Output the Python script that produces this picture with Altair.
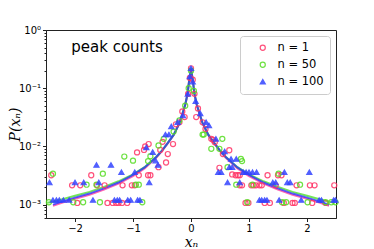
import altair as alt
import pandas as pd

series_names = ["n = 1", "n = 50", "n = 100"]
point_colors = ["#ff3366", "#55dd22", "#3344ff"]
line_colors = ["#ff3399", "#44dd22", "#2233ff"]

# ---- scatter points ----
red_x = [-2.41, -2.05, -1.96, -1.91, -1.72, -1.62, -1.49, -1.44, -1.35, -1.29, -1.25, -1.19, -1.18,
         -1.10, -1.02, -0.97, -0.93, -0.90, -0.81, -0.79, -0.74, -0.70, -0.73, -0.56, -0.53, -0.49,
         -0.43, -0.40, -0.31, -0.26, -0.20, -0.15, -0.11, -0.05, -0.02, 0.0, 0.03, 0.06, 0.09, 0.12,
         0.2, 0.25, 0.35, 0.38, 0.41, 0.49, 0.55, 0.66, 0.71, 0.77, 0.81, 0.84, 0.84, 0.88, 0.94,
         0.99, 1.04, 1.08, 1.12, 1.18, 1.22, 1.27, 1.32, 1.36, 1.46, 1.50, 1.56, 1.60, 1.75, 1.79,
         1.82, 2.05, 2.09, 2.13, 2.32, 2.47]
red_y = [3.2e-3, 2.15e-3, 1.07e-3, 2.15e-3, 3.2e-3, 2.15e-3, 2.15e-3, 1.07e-3, 1.07e-3, 1.07e-3,
         1.07e-3, 1.07e-3, 2.15e-3, 1.07e-3, 2.15e-3, 2.15e-3, 7.9e-3, 3.2e-3, 8.7e-3, 1.0e-2,
         3.2e-3, 3.2e-3, 1.1e-2, 4.4e-3, 8.7e-3, 1.2e-2, 5.3e-3, 7.4e-3, 1.1e-2, 2.4e-2, 2.6e-2,
         4.0e-2, 3.2e-2, 8.0e-2, 1.5e-1, 2.2e-1, 1.4e-1, 8.0e-2, 3.2e-2, 4.5e-2, 2.6e-2, 2.0e-2,
         1.35e-2, 1.3e-2, 1.18e-2, 4.3e-3, 7.4e-3, 8.6e-3, 3.3e-3, 3.2e-3, 3.2e-3, 3.2e-3, 2.15e-3,
         2.15e-3, 1.07e-3, 1.07e-3, 2.15e-3, 2.15e-3, 2.15e-3, 2.15e-3, 2.15e-3, 1.07e-3, 3.2e-3,
         1.07e-3, 2.15e-3, 3.2e-3, 3.2e-3, 1.07e-3, 1.07e-3, 1.07e-3, 2.15e-3, 2.15e-3, 1.07e-3,
         2.15e-3, 1.07e-3, 2.15e-3]

green_x = [-2.45, -2.38, -2.03, -1.86, -1.80, -1.63, -1.57, -1.52, -1.15, -1.00, -0.95, -0.90, -0.84,
           -0.74, -0.70, -0.56, -0.47, -0.30, -0.20, -0.10, -0.04, 0.0, 0.05, 0.20, 0.22, 0.35, 0.49,
           0.54, 0.63, 0.78, 0.86, 0.88, 0.97, 1.06, 1.51, 1.57, 1.64, 1.88, 2.01, 2.32, 2.42, 2.49]
green_y = [1.1e-3, 3.4e-3, 1.1e-3, 1.1e-3, 2.2e-3, 2.2e-3, 1.1e-3, 3.4e-3, 6.7e-3, 5.7e-3, 2.2e-3,
           2.2e-3, 1.1e-3, 5.6e-3, 6.8e-3, 1.04e-2, 1.35e-2, 1.8e-2, 2.8e-2, 5.0e-2, 1.0e-1, 2.0e-1,
           9.0e-2, 1.6e-2, 1.6e-2, 9.1e-3, 9.1e-3, 1.35e-2, 4.4e-3, 2.2e-3, 6.1e-3, 5.6e-3, 1.1e-3,
           2.2e-3, 3.4e-3, 1.1e-3, 1.1e-3, 2.2e-3, 1.1e-3, 1.1e-3, 1.1e-3, 1.1e-3]

blue_x = [-2.44, -2.38, -2.32, -2.27, -2.20, -2.10, -2.00, -1.85, -1.69, -1.63, -1.59, -1.38, -1.32,
          -1.27, -1.23, -1.20, -1.09, -1.04, -0.97, -0.92, -0.88, -0.77, -0.72, -0.66, -0.61, -0.57,
          -0.44, -0.38, -0.34, -0.23, -0.14, -0.055, -0.02, 0.0, 0.03, 0.08, 0.16, 0.26, 0.31, 0.43,
          0.47, 0.52, 0.58, 0.63, 0.66, 0.71, 0.69, 0.78, 0.84, 0.90, 0.95, 1.00, 1.06, 1.13, 1.18,
          1.22, 1.27, 1.31, 1.41, 1.46, 1.52, 1.61, 1.66, 1.71, 1.90, 2.04, 2.21, 2.25, 2.46, 2.49]
blue_y = [2.4e-3, 1.2e-3, 1.2e-3, 1.2e-3, 1.2e-3, 1.2e-3, 2.4e-3, 2.4e-3, 1.2e-3, 4.8e-3, 2.4e-3,
          4.8e-3, 1.2e-3, 1.2e-3, 1.2e-3, 3.6e-3, 1.2e-3, 1.2e-3, 3.6e-3, 1.2e-3, 1.2e-3, 9.6e-3,
          2.4e-3, 8.0e-3, 5.7e-3, 4.8e-3, 1.6e-2, 1.6e-2, 2.2e-2, 2.6e-2, 3.4e-2, 8.0e-2, 1.6e-1,
          2.2e-1, 1.3e-1, 6.0e-2, 3.7e-2, 2.6e-2, 2.3e-2, 1.35e-2, 3.6e-3, 3.6e-3, 8.2e-3, 2.4e-3,
          4.4e-3, 4.4e-3, 6.1e-3, 6.1e-3, 2.4e-3, 3.6e-3, 3.6e-3, 3.6e-3, 3.6e-3, 3.6e-3, 1.2e-3,
          1.2e-3, 1.2e-3, 1.2e-3, 2.4e-3, 2.4e-3, 1.2e-3, 3.6e-3, 2.4e-3, 2.4e-3, 1.2e-3, 3.6e-3,
          1.2e-3, 1.2e-3, 1.2e-3, 1.2e-3]

# ---- fitted curves ----
curve_x = [-2.38, -2.2, -2.0, -1.75, -1.5, -1.25, -1.0, -0.8, -0.6, -0.5, -0.4, -0.3, -0.2, -0.15,
           -0.1, -0.06, -0.03, 0.0, 0.03, 0.06, 0.1, 0.15, 0.2, 0.3, 0.4, 0.5, 0.6, 0.8, 1.0, 1.25,
           1.5, 1.75, 2.0, 2.2, 2.38]
red_curve = [0.00096, 0.0011, 0.00126, 0.00148, 0.00181, 0.0023, 0.0031, 0.0042, 0.0064, 0.0083,
             0.0113, 0.0155, 0.0248, 0.035, 0.051, 0.079, 0.14, 0.214, 0.14, 0.079, 0.051, 0.035,
             0.0248, 0.0155, 0.0113, 0.0083, 0.0064, 0.0042, 0.0031, 0.0023, 0.00181, 0.00148,
             0.00126, 0.0011, 0.00096]
blue_curve = [0.00100, 0.00115, 0.00132, 0.00155, 0.0019, 0.0024, 0.00324, 0.00437, 0.0066, 0.0085,
              0.0115, 0.0158, 0.0251, 0.036, 0.052, 0.0794, 0.141, 0.214, 0.141, 0.0794, 0.052,
              0.036, 0.0251, 0.0158, 0.0115, 0.0085, 0.0066, 0.00437, 0.00324, 0.0024, 0.0019,
              0.00155, 0.00132, 0.00115, 0.00100]
green_curve_x = [-2.48, -2.38, -2.2, -2.0, -1.75, -1.5, -1.25, -1.0, -0.8, -0.6, -0.5, -0.4, -0.3,
                 -0.2, -0.15, -0.1, -0.06, -0.03, 0.0, 0.03, 0.06, 0.1, 0.15, 0.2, 0.3, 0.4, 0.5,
                 0.6, 0.8, 1.0, 1.25, 1.5, 1.75, 2.0, 2.2, 2.38, 2.48]
green_curve = [0.00108, 0.00112, 0.00125, 0.00142, 0.00166, 0.00202, 0.00252, 0.0033, 0.0044,
               0.0066, 0.0085, 0.0115, 0.0158, 0.0251, 0.036, 0.052, 0.0794, 0.141, 0.214, 0.141,
               0.0794, 0.052, 0.036, 0.0251, 0.0158, 0.0115, 0.0085, 0.0066, 0.0044, 0.0033,
               0.00252, 0.00202, 0.00166, 0.00142, 0.00125, 0.00112, 0.00108]

pts = pd.concat([
    pd.DataFrame({"x": red_x, "y": red_y, "series": series_names[0]}),
    pd.DataFrame({"x": green_x, "y": green_y, "series": series_names[1]}),
    pd.DataFrame({"x": blue_x, "y": blue_y, "series": series_names[2]}),
], ignore_index=True)

lines = pd.concat([
    pd.DataFrame({"x": curve_x, "y": red_curve, "series": series_names[0]}),
    pd.DataFrame({"x": green_curve_x, "y": green_curve, "series": series_names[1]}),
    pd.DataFrame({"x": curve_x, "y": blue_curve, "series": series_names[2]}),
], ignore_index=True)

major = [1e-3, 1e-2, 1e-1, 1.0]
minor = [6e-4, 7e-4, 8e-4, 9e-4,
         2e-3, 3e-3, 4e-3, 5e-3, 6e-3, 7e-3, 8e-3, 9e-3,
         2e-2, 3e-2, 4e-2, 5e-2, 6e-2, 7e-2, 8e-2, 9e-2,
         0.2, 0.3, 0.4, 0.5, 0.6, 0.7, 0.8, 0.9]
is_major = "abs(log(datum.value)/LN10 - round(log(datum.value)/LN10)) < 0.001"

xscale = alt.Scale(domain=[-2.5, 2.5], nice=False, zero=False)
yscale = alt.Scale(type="log", domain=[5.9e-4, 1.0], nice=False)

xenc = alt.X("x:Q", scale=xscale, axis=alt.Axis(
    values=[-2, -1, 0, 1, 2], title="xₙ",
    labelExpr="datum.value < 0 ? '−' + abs(datum.value) : '' + datum.value",
    titleFont="DejaVu Serif", titleFontStyle="italic", titleFontSize=14,
    titleFontWeight="normal", titleY=28, titleBaseline="alphabetic"))
yenc = alt.Y("y:Q", scale=yscale, axis=alt.Axis(
    values=major + minor, title="P(xₙ)",
    labelExpr=("datum.value > 0.99 ? '10⁰' : abs(datum.value-0.1) < 1e-6 ? '10⁻¹' : "
               "abs(datum.value-0.01) < 1e-7 ? '10⁻²' : abs(datum.value-0.001) < 1e-8 ? '10⁻³' : ''"),
    tickSize={"condition": {"test": is_major, "value": 3.5}, "value": 2},
    titleFont="DejaVu Serif", titleFontStyle="italic", titleFontSize=14,
    titleFontWeight="normal", titleX=-31, titleY=94, titleBaseline="middle"))

line_layer = alt.Chart(lines).mark_line(strokeWidth=2, opacity=0.75).encode(
    x=xenc, y=yenc,
    color=alt.Color("series:N", scale=alt.Scale(domain=series_names, range=line_colors), legend=None),
    detail="series:N",
)

leg = alt.Legend(title=None)
point_layer = alt.Chart(pts).mark_point(size=26, strokeWidth=1.2, opacity=0.85, filled=False).encode(
    x=xenc, y=yenc,
    stroke=alt.Stroke("series:N", scale=alt.Scale(domain=series_names, range=point_colors), legend=leg),
    shape=alt.Shape("series:N", scale=alt.Scale(domain=series_names,
                                                 range=["circle", "circle", "triangle-up"]), legend=leg),
    fill=alt.Fill("series:N", scale=alt.Scale(domain=series_names,
                                               range=["transparent", "transparent", "#3344ff"]), legend=leg),
)

label_layer = alt.Chart(pd.DataFrame({"t": ["peak counts"]})).mark_text(
    font="DejaVu Sans", fontSize=15, color="black", align="center", baseline="middle"
).encode(x=alt.value(71), y=alt.value(17), text="t:N")

chart = alt.layer(line_layer, point_layer, label_layer).resolve_scale(
    color="independent"
).properties(
    width=290, height=188,
    autosize=alt.AutoSizeParams(type="none"),
    padding={"left": 38, "top": 22, "right": 30, "bottom": 35},
).configure_view(
    stroke="#222222", strokeWidth=1
).configure_axis(
    grid=False, domainColor="#222222", tickColor="#222222", labelColor="black",
    labelFont="DejaVu Sans", labelFontSize=10, labelPadding=2, tickSize=3.5,
    titleColor="black",
).configure_legend(
    orient="top-right", offset=6, padding=6, strokeColor="#cccccc", fillColor="white",
    cornerRadius=3, labelFont="DejaVu Sans", labelFontSize=11.5, labelColor="black",
    symbolSize=26, symbolStrokeWidth=1.2, symbolOffset=11, labelOffset=9, rowPadding=4,
    symbolOpacity=0.85
)

chart.save("out.html", embed_options={"renderer": "svg", "actions": False})
